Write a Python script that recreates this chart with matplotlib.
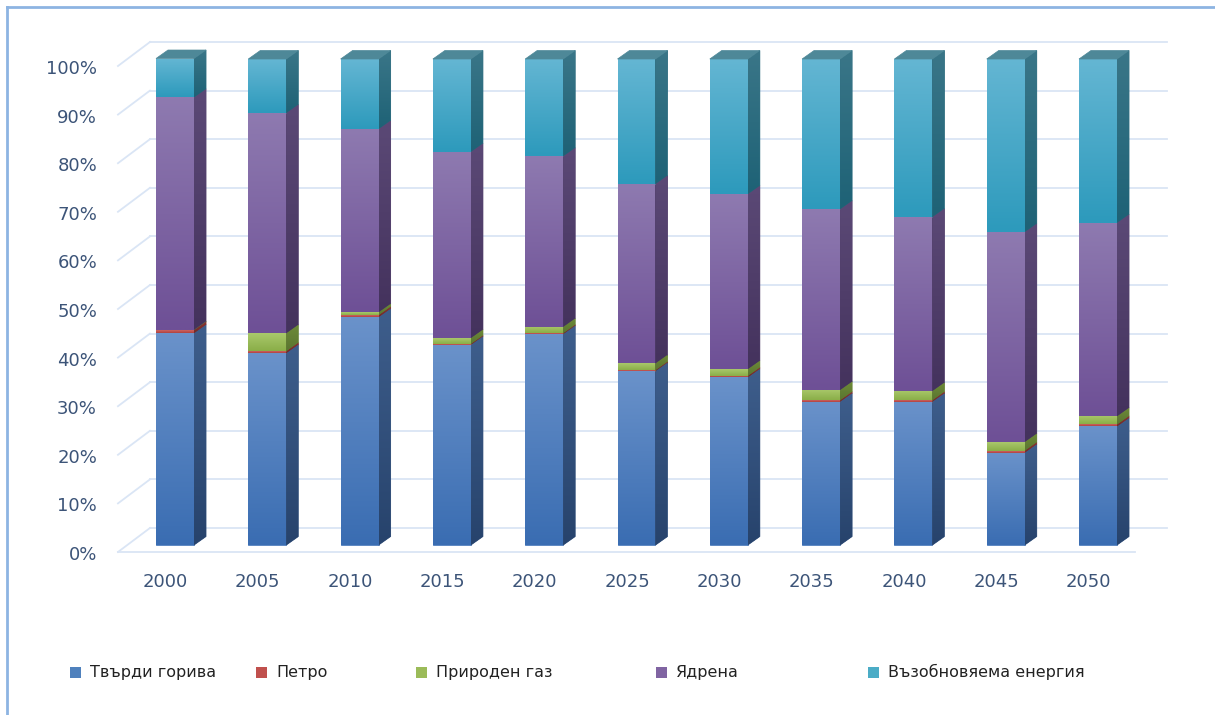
import numpy as np
import matplotlib
matplotlib.use("Agg")
import matplotlib.pyplot as plt
from matplotlib.patches import Polygon, Rectangle
from matplotlib.colors import to_rgb

# ---------------- data ----------------
years = ["2000", "2005", "2010", "2015", "2020", "2025", "2030", "2035", "2040", "2045", "2050"]
series_names = ["Твърди горива", "Петро", "Природен газ", "Ядрена", "Възобновяема енергия"]
solid = [43.6, 39.5, 46.9, 41.2, 43.4, 35.8, 34.5, 29.5, 29.5, 19.0, 24.4]
petro = [0.6, 0.4, 0.4, 0.2, 0.2, 0.2, 0.3, 0.3, 0.3, 0.4, 0.4]
gas = [0.1, 3.7, 0.6, 1.2, 1.3, 1.4, 1.4, 2.1, 1.9, 1.8, 1.7]
nuclear = [47.8, 45.3, 37.7, 38.3, 35.1, 36.9, 36.0, 37.2, 35.8, 43.2, 39.8]
renew = [8.0, 11.1, 14.4, 19.1, 20.0, 25.7, 27.8, 30.9, 32.5, 35.6, 33.7]
yticks = [0, 10, 20, 30, 40, 50, 60, 70, 80, 90, 100]

# ---------------- style ----------------
base_colors = ["#4F81BD", "#C0504D", "#9BBB59", "#8064A2", "#4BACC6"]
front_grad = [("#6A92CA", "#3A6DB2"), ("#CC6360", "#B0413E"), ("#A9C86B", "#8AAE48"),
              ("#8E7AB0", "#6E5096"), ("#64B6D3", "#2D9ABC")]
side_grad = [("#3E5E8C", "#27436C"), ("#8A3533", "#722A28"), ("#6E8B38", "#5A7530"),
             ("#5B4976", "#44325D"), ("#3A7688", "#1E6276")]
top_color = "#4E8898"
grid_color = "#DAE5F5"
tick_color = "#3C5478"

W, H = 1215, 715
fig = plt.figure(figsize=(W / 100, H / 100), dpi=100)

# front plane of the bars (pixel geometry)
x0_px, dx_px = 175.0, 92.3
y0_px, y100_px = 545.0, 59.0
py_per = (y0_px - y100_px) / 100.0
xlim = (-1.0, 10.9)
ylim = (-10.0, 110.0)
ax_left = (x0_px + xlim[0] * dx_px) / W
ax_w = (xlim[1] - xlim[0]) * dx_px / W
ax_bottom = (H - (y0_px - ylim[0] * py_per)) / H
ax_h = (ylim[1] - ylim[0]) * py_per / H
ax = fig.add_axes([ax_left, ax_bottom, ax_w, ax_h])
ax.set_xlim(*xlim)
ax.set_ylim(*ylim)
ax.set_autoscale_on(False)
ax.axis("off")

px_x = 1.0 / dx_px
px_y = 1.0 / py_per


def off(x, y, dxp, dyp):
    return (x + dxp * px_x, y + dyp * px_y)


def mix(c1, c2):
    a, b = np.array(to_rgb(c1)), np.array(to_rgb(c2))
    return tuple((a + b) / 2)


def grad_fill(verts, ctop, cbot, z):
    under = Polygon(verts, closed=True, facecolor=mix(ctop, cbot), edgecolor=mix(ctop, cbot),
                    lw=0.6, zorder=z - 0.5)
    ax.add_patch(under)
    poly = Polygon(verts, closed=True, facecolor="none", edgecolor="none", zorder=z)
    ax.add_patch(poly)
    xs = [v[0] for v in verts]
    ys = [v[1] for v in verts]
    t = np.array(to_rgb(ctop))
    b = np.array(to_rgb(cbot))
    img = np.linspace(0, 1, 64)[:, None, None] * (t - b) + b
    img = np.repeat(img, 2, axis=1)
    im = ax.imshow(img, extent=(min(xs), max(xs), min(ys), max(ys)), origin="lower",
                   aspect="auto", interpolation="bilinear", zorder=z)
    im.set_clip_path(poly)


# depth offsets in pixels
bar_d = (12.0, 8.5)
wall_front = (-9.5, -7.0)
wall_back = (22.5, 17.0)

x = np.arange(len(years))
xL_data = -0.515
xR_data = 10.505

# grid: back wall, left wall, floor
for v in yticks:
    p1 = off(xL_data, v, *wall_back)
    p2 = off(xR_data, v, *wall_back)
    ax.plot([p1[0], p2[0]], [p1[1], p2[1]], color=grid_color, lw=1.3, zorder=1, clip_on=False)
    q1 = off(xL_data, v, *wall_front)
    ax.plot([q1[0], p1[0]], [q1[1], p1[1]], color=grid_color, lw=1.3, zorder=1, clip_on=False)
    ax.text(off(-0.845, v, 0, 0)[0], off(0, v, *wall_front)[1] - 0.6, f"{v}%",
            ha="right", va="center", fontsize=13, color=tick_color, clip_on=False)
f1 = off(xL_data, 0, *wall_front)
f2 = off(xR_data, 0, *wall_front)
ax.plot([f1[0], f2[0]], [f1[1], f2[1]], color=grid_color, lw=1.3, zorder=1, clip_on=False)

# stacked bars
data = [solid, petro, gas, nuclear, renew]
width = 38.0 / dx_px
bottom = np.zeros(len(years))
for si, vals in enumerate(data):
    vals = np.array(vals, dtype=float)
    bars = ax.bar(x, vals, width=width, bottom=bottom, color=base_colors[si],
                  linewidth=0, zorder=3, label=series_names[si])
    for rect in bars:
        bx, by = rect.get_x(), rect.get_y()
        bw, bh = rect.get_width(), rect.get_height()
        if bh <= 0:
            continue
        # front face gradient
        grad_fill([(bx, by), (bx + bw, by), (bx + bw, by + bh), (bx, by + bh)],
                  front_grad[si][0], front_grad[si][1], 4)
        # side face
        xr = bx + bw
        side = [(xr, by), off(xr, by, *bar_d), off(xr, by + bh, *bar_d), (xr, by + bh)]
        grad_fill(side, side_grad[si][0], side_grad[si][1], 4)
        if si == len(data) - 1:
            top = [(bx, by + bh), (xr, by + bh), off(xr, by + bh, *bar_d), off(bx, by + bh, *bar_d)]
            ax.add_patch(Polygon(top, closed=True, facecolor=top_color, edgecolor=top_color,
                                 lw=0.5, zorder=5))
    bottom = bottom + vals

# category labels
for i, yr in enumerate(years):
    lx, ly = off(x[i], 0, wall_front[0], -37.0)
    ax.text(lx, ly, yr, ha="center", va="center", fontsize=13, color=tick_color, clip_on=False)

# legend
leg_text_px = [90, 276, 436, 676, 888]
leg_y_px = 672
for si, name in enumerate(series_names):
    tx = leg_text_px[si]
    fig.patches.append(Rectangle(((tx - 20) / W, (H - leg_y_px - 5.5) / H), 11 / W, 11 / H,
                                 transform=fig.transFigure, facecolor=base_colors[si],
                                 edgecolor="none"))
    fig.text(tx / W, (H - leg_y_px) / H, name, ha="left", va="center", fontsize=11.5,
             color="#222222")

# chart border (top and left)
fig.add_artist(plt.Line2D([7 / W, 1.0], [(H - 7) / H, (H - 7) / H], transform=fig.transFigure,
                          color="#8DB4E2", lw=2))
fig.add_artist(plt.Line2D([7 / W, 7 / W], [0, (H - 7) / H], transform=fig.transFigure,
                          color="#8DB4E2", lw=2))

fig.savefig("out.png", dpi=100, facecolor="white")
